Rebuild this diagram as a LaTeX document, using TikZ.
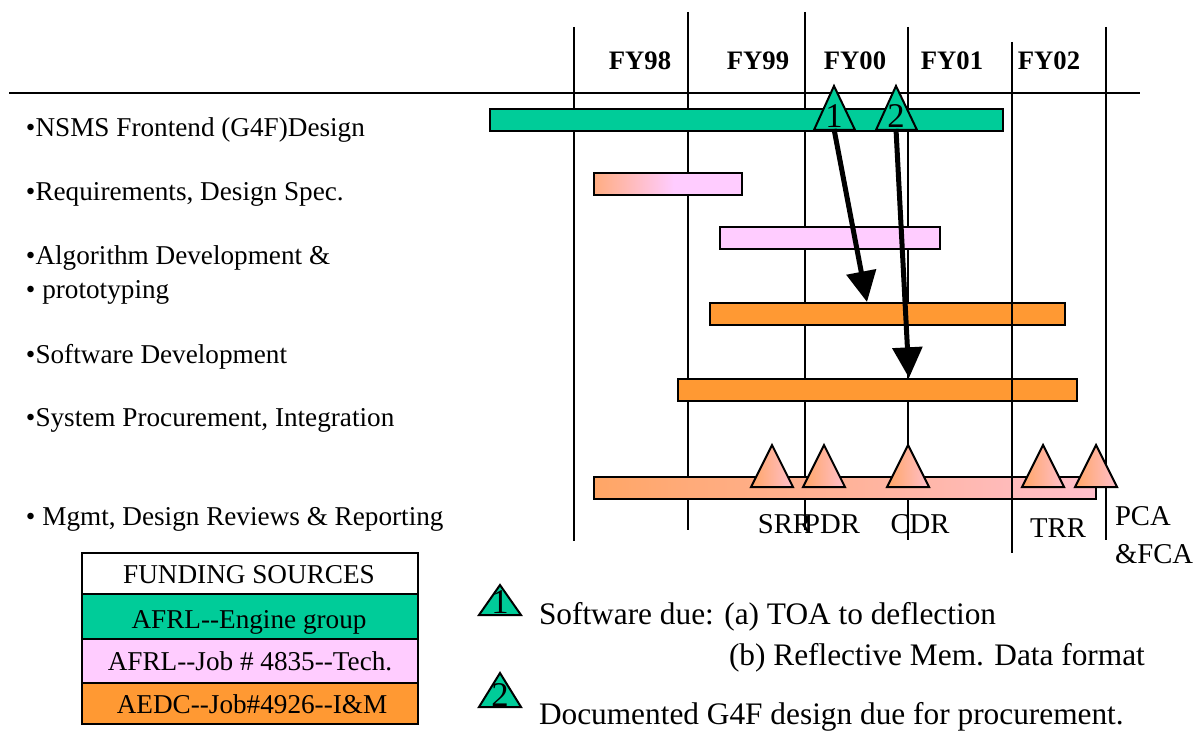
\documentclass[tikz,border=0pt]{standalone}
\usepackage{fontspec}
\setmainfont{Liberation Serif}
\usetikzlibrary{positioning,arrows.meta}
\definecolor{grn}{HTML}{00CC99}
\definecolor{pnk}{HTML}{FFCCFF}
\definecolor{org}{HTML}{FF9933}
\pgfdeclarehorizontalshading{orgpnk}{100bp}{color(0bp)=(org); color(100bp)=(pnk)}
\pgfdeclarehorizontalshading{orgpnkreq}{100bp}{color(0bp)=(org); color(8bp)=(org); color(52bp)=(pnk); color(100bp)=(pnk)}
\begin{document}
\begin{tikzpicture}[x=0.75pt,y=-0.75pt,line width=1.5pt,
  txt/.style={font=\fontsize{20.4}{24}\selectfont,inner sep=0pt},
  fy/.style={font=\fontsize{20}{24}\selectfont\bfseries,inner sep=0pt},
  ms/.style={font=\fontsize{21.5}{26}\selectfont,inner sep=0pt},
  note/.style={font=\fontsize{23.5}{28}\selectfont,inner sep=0pt},
  num/.style={font=\fontsize{26}{30}\selectfont,inner sep=0pt},
  bar/.style={draw,line width=1.5pt},
  bigarrow/.style={line width=3.75pt,-{Triangle[width=22pt,length=23pt]}}]
\useasboundingbox (0,0) rectangle (1204,731);
% time grid
\draw (9,93)--(1140,93);
\foreach \x/\t/\b in {574/27/541,688/12/530,805/12/530,908/27/540,1106/27/540}
  \draw (\x,\t)--(\x,\b);
\foreach \x/\n in {640/98,758/99,855/00,952/01,1049/02}
  \node[fy,anchor=base] (fy\n) at (\x,70) {FY\n};
% tasks
\node[txt,anchor=base west] (nsms) at (25,137) {•NSMS Frontend (G4F)Design};
\node[txt,anchor=base west] (req) at (25,201) {•Requirements, Design Spec.};
\node[txt,anchor=base west] (algo) at (25,265) {•Algorithm Development \&};
\node[txt,anchor=base west] (proto) at (25,298) {• prototyping};
\node[txt,anchor=base west] (soft) at (25,363) {•Software Development};
\node[txt,anchor=base west] (proc) at (25,426) {•System Procurement, Integration};
\node[txt,anchor=base west] (mgmt) at (25,525) {• Mgmt, Design Reviews \& Reporting};
% bars
\draw[bar,fill=grn] (490,109) rectangle (1003,131);
\shadedraw[bar,shading=orgpnkreq] (594,173) rectangle (742,195);
\draw[bar,fill=pnk] (720,227) rectangle (940,249);
\draw[bar,fill=org] (710,303) rectangle (1065,325);
\draw[bar,fill=org] (678,379) rectangle (1077,401);
\shadedraw[bar,shading=orgpnk] (594,477) rectangle (1096,499);
\draw (1012,42)--(1012,553);
% milestones
\foreach \x in {772,824,908,1043,1096}
  \shadedraw[bar,shading=orgpnk] (\x-21,487)--(\x,445)--(\x+21,487)--cycle;
\node[ms,anchor=base] (srr) at (785,533) {SRR};
\node[ms,anchor=base] (pdr) at (832,533) {PDR};
\node[ms,anchor=base] (cdr) at (920,533) {CDR};
\node[ms,anchor=base] (trr) at (1058,537) {TRR};
\node[ms,anchor=base west] (pca) at (1114,525) {PCA};
\node[ms,anchor=base west] (fca) at (1114,563) {\&FCA};
% due dates
\draw[bar,fill=grn] (814,130)--(834,86)--(855,130)--cycle;
\draw[bar,fill=grn] (876,130)--(896,86)--(917,130)--cycle;
\node[num,anchor=base] (due1) at (834,128) {1};
\node[num,anchor=base] (due2) at (896,128) {2};
\coordinate (tip1) at (867,302);
\coordinate (tip2) at (909,378);
\draw[bigarrow] (due1.south) -- (tip1);
\draw[bigarrow] (due2.south) -- (tip2);
% funding legend
\draw[bar,fill=white] (82,553) rectangle (418,594);
\draw[bar,fill=grn] (82,594) rectangle (418,639);
\draw[bar,fill=pnk] (82,639) rectangle (418,683);
\draw[bar,fill=org] (82,683) rectangle (418,724);
\node[txt,anchor=base] (fund) at (249,583) {FUNDING SOURCES};
\node[txt,anchor=base] (eng) at (249,628) {AFRL{-}{-}Engine group};
\node[txt,anchor=base] (tech) at (250,670) {AFRL{-}{-}Job \# 4835{-}{-}Tech.};
\node[txt,anchor=base] (im) at (252,713) {AEDC{-}{-}Job\#4926{-}{-}I\&M};
% notes
\draw[bar,fill=grn] (479,615)--(500,585)--(521,615)--cycle;
\node[num,anchor=base] (key1) at (500,613) {1};
\draw[bar,fill=grn] (479,707)--(500,673)--(521,707)--cycle;
\node[num,anchor=base] (key2) at (500,706) {2};
\node[note,anchor=base west] (sw) at (538,624) {Software due: (a) TOA to deflection};
\node[note,anchor=base west] (mem) at (728,665) {(b) Reflective Mem. Data format};
\node[note,anchor=base west] (doc) at (538,724) {Documented G4F design due for procurement.};
\end{tikzpicture}
\end{document}
